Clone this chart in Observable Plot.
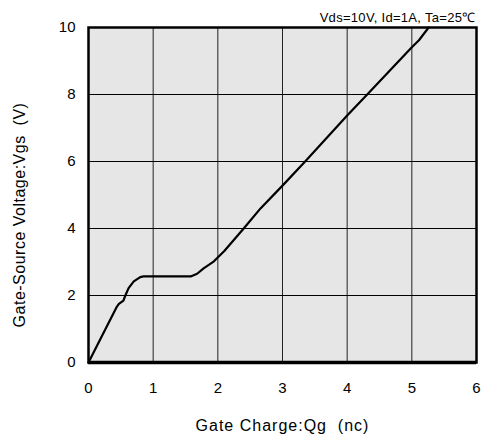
<!DOCTYPE html>
<html>
<head>
<meta charset="utf-8">
<script src="https://cdn.jsdelivr.net/npm/d3@7"></script>
<script src="https://cdn.jsdelivr.net/npm/@observablehq/plot@0.6"></script>
<style>
  html, body { margin: 0; padding: 0; background: #fff; }
</style>
</head>
<body>
<div id="chart"></div>
<script>
// Gate charge (nC) and gate-source voltage (V)
const qg  = [0, 0.2, 0.44, 0.47, 0.54, 0.57, 0.62, 0.7, 0.8, 0.85, 1.2, 1.58, 1.68, 1.78, 1.94, 2.1, 2.4, 2.66, 3.0, 3.35, 4.0, 4.31, 5.0, 5.11, 5.26];
const vgs = [0, 0.76, 1.67, 1.75, 1.85, 2.0, 2.22, 2.42, 2.55, 2.57, 2.57, 2.57, 2.65, 2.81, 3.02, 3.33, 4.0, 4.6, 5.28, 6.0, 7.37, 8.0, 9.41, 9.62, 10.0];
const xTicks = [0, 1, 2, 3, 4, 5, 6];
const yTicks = [0, 2, 4, 6, 8, 10];
const xLabel = "Gate Charge:Qg  (nc)";
const yLabel = "Gate-Source Voltage:Vgs  (V)";
const note = "Vds=10V, Id=1A, Ta=25\u2103";

const data = qg.map((q, i) => ({q, v: vgs[i]}));

const chart = Plot.plot({
  width: 482,
  height: 438,
  marginLeft: 88,
  marginRight: 6,
  marginTop: 27,
  marginBottom: 76,
  style: {fontFamily: "'Liberation Sans', Arial, sans-serif", fontSize: "15px", color: "#000", background: "#fff", overflow: "visible"},
  x: {domain: [0, 6]},
  y: {domain: [0, 10]},
  marks: [
    Plot.frame({fill: "#e6e6e6", stroke: null}),
    Plot.gridX(xTicks, {stroke: "#000", strokeOpacity: 0.85, strokeWidth: 1}),
    Plot.gridY(yTicks, {stroke: "#000", strokeOpacity: 1, strokeWidth: 1}),
    Plot.line(data, {x: "q", y: "v", stroke: "#000", strokeWidth: 2.2}),
    Plot.frame({stroke: "#000", strokeWidth: 2.5}),
    Plot.ruleY([0], {stroke: "#000", strokeWidth: 3.5}),
    Plot.axisX({ticks: xTicks, tickFormat: d3.format("d"), tickSize: 0, tickPadding: 20, label: null, fontSize: 15}),
    Plot.axisY({ticks: yTicks, tickFormat: d3.format("d"), tickSize: 0, tickPadding: 13, label: null, fontSize: 15}),
    Plot.text([note], {frameAnchor: "top-right", text: d => d, textAnchor: "end", lineAnchor: "bottom", dy: -6, dx: -1, fontSize: 13, fill: "#000"}),
    Plot.text([xLabel], {frameAnchor: "bottom", text: d => d, textAnchor: "middle", lineAnchor: "bottom", dy: 68, fontSize: 16, fill: "#000"}),
    Plot.text([yLabel], {frameAnchor: "left", text: d => d, rotate: -90, textAnchor: "middle", lineAnchor: "bottom", dx: -64, dy: 20, fontSize: 16, fill: "#000"})
  ]
});
document.getElementById("chart").appendChild(chart);
d3.select(chart).selectAll("text").filter(function() { return this.textContent === xLabel; }).style("letter-spacing", "1px");
d3.select(chart).selectAll("text").filter(function() { return this.textContent === yLabel; }).style("letter-spacing", "0.5px");
d3.select(chart).selectAll("text").filter(function() { return this.textContent === note; }).style("letter-spacing", "0.3px");
</script>
</body>
</html>
